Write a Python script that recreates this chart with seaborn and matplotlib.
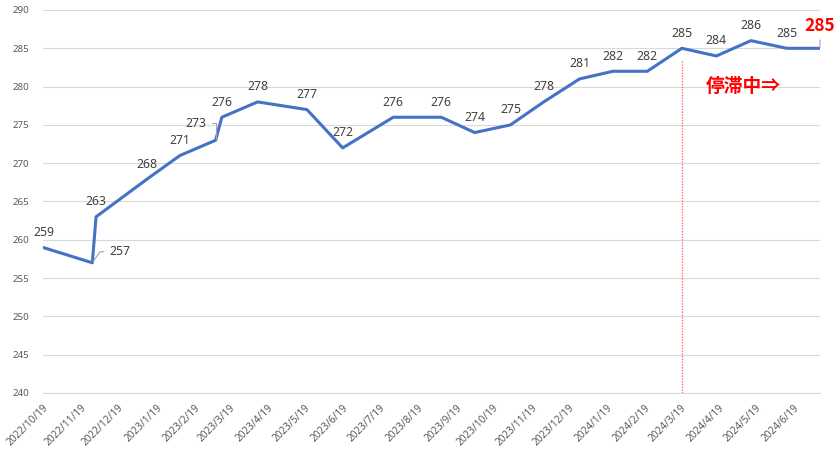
import matplotlib
matplotlib.use("Agg")
import matplotlib.pyplot as plt
import seaborn as sns
import pandas as pd

dates = ["2022-10-19", "2022-11-28", "2022-12-01", "2023-01-12", "2023-02-07",
         "2023-03-08", "2023-03-13", "2023-04-11", "2023-05-21", "2023-06-19",
         "2023-07-30", "2023-09-07", "2023-10-04", "2023-11-02", "2023-11-29",
         "2023-12-28", "2024-01-24", "2024-02-21", "2024-03-20", "2024-04-17",
         "2024-05-15", "2024-06-13", "2024-07-10"]
values = [259, 257, 263, 268, 271, 273, 276, 278, 277, 272, 276, 276, 274, 275,
          278, 281, 282, 282, 285, 284, 286, 285, 285]
tick_dates = pd.date_range("2022-10-01", "2024-06-01", freq="MS") + pd.Timedelta(days=18)
tick_labels = [f"{d.year}/{d.month}/{d.day}" for d in tick_dates]
stagnation_start = "2024-03-20"
stagnation_text = "停滞中⇒"

df = pd.DataFrame({"date": pd.to_datetime(dates), "value": values})

sns.set_style("white")
plt.rcParams["font.family"] = ["Noto Sans", "Noto Sans CJK JP", "DejaVu Sans"]

fig = plt.figure(figsize=(8.4, 4.49), dpi=100)
ax = fig.add_axes([43 / 840, 1 - 393 / 449, (820 - 43) / 840, (393 - 10) / 449])

ax.set_ylim(240, 290)
ax.set_yticks(range(240, 291, 5))
ax.yaxis.grid(True, color="#d9d9d9", lw=0.8)
ax.set_axisbelow(True)

# stagnation marker line
ax.vlines(pd.to_datetime(stagnation_start), 240, 283.5, colors="#ff7070",
          linestyles=(0, (1, 1)), lw=1.0, zorder=1)

sns.lineplot(data=df, x="date", y="value", ax=ax, color="#4472C4", lw=2.2,
             zorder=3, legend=False)

ax.set_xlim(df["date"].min(), df["date"].max())
ax.set_xticks(tick_dates)
ax.set_xticklabels(tick_labels, rotation=45, ha="right", rotation_mode="anchor",
                   fontsize=7.2, color="#595959")
ax.tick_params(axis="x", length=4, color="#d9d9d9", width=0.8, pad=3)
ax.tick_params(axis="y", length=0, labelsize=7, labelcolor="#595959", pad=10)
ax.set_xlabel("")
ax.set_ylabel("")
for s in ["top", "right", "left"]:
    ax.spines[s].set_visible(False)
ax.spines["bottom"].set_color("#d9d9d9")
ax.spines["bottom"].set_linewidth(0.8)

# data labels
offsets = {0: (1, 15), 1: (28, 11), 5: (-20, 17), 3: (-1, 14)}
n = len(df)
for i, (d, v) in enumerate(zip(df["date"], df["value"])):
    if i == n - 1:
        ax.annotate(str(v), (d, v), xytext=(0, 22), textcoords="offset pixels",
                    ha="center", va="center", fontsize=12.5, fontweight="bold",
                    color="#ff0000", zorder=5, annotation_clip=False,
                    family=["Noto Sans CJK JP", "DejaVu Sans"],
                    arrowprops=dict(arrowstyle="-", color="#a6a6a6", lw=0.8,
                                    shrinkA=1, shrinkB=1))
        continue
    dx, dy = offsets.get(i, (0, 15))
    kw = {}
    if i == 1:
        kw["arrowprops"] = dict(arrowstyle="-", color="#a6a6a6", lw=0.8,
                                shrinkA=2, shrinkB=1,
                                connectionstyle="angle,angleA=0,angleB=55,rad=0")
    if i == 5:
        kw["arrowprops"] = dict(arrowstyle="-", color="#a6a6a6", lw=0.8,
                                shrinkA=2, shrinkB=1,
                                connectionstyle="angle,angleA=0,angleB=90,rad=0")
    ax.annotate(str(v), (d, v), xytext=(dx, dy), textcoords="offset pixels",
                ha="center", va="center", fontsize=8.8, color="#404040",
                zorder=5, annotation_clip=False, **kw)

ax.text(0.853, 0.80, stagnation_text, transform=ax.transAxes, ha="left",
        va="center", fontsize=13.5, fontweight="bold", color="#ff0000",
        family=["Noto Sans CJK JP", "DejaVu Sans"])

fig.savefig("out.png", dpi=100)
